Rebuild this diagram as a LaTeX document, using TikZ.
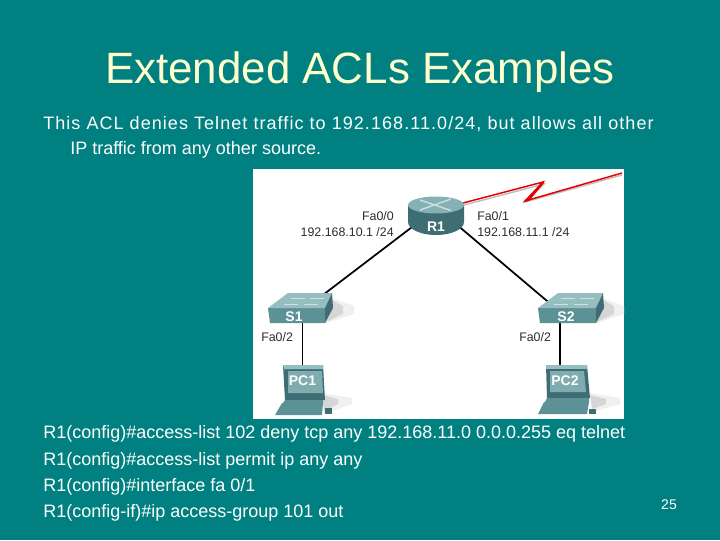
\documentclass[tikz,border=0pt]{standalone}
\usepackage{fontspec}
\setmainfont{Liberation Sans}
\usetikzlibrary{backgrounds}
\definecolor{slidebg}{RGB}{0,128,128}
\definecolor{titlecol}{RGB}{255,255,204}
\definecolor{devdark}{RGB}{62,110,116}
\definecolor{devmid}{RGB}{92,145,150}
\definecolor{devlight}{RGB}{150,190,192}
\definecolor{devpale}{RGB}{205,225,225}
\definecolor{labelgray}{RGB}{45,45,45}
\tikzset{
  x=0.75pt,y=-0.75pt,
  titletext/.style={anchor=base,text=titlecol,font=\fontsize{32.9pt}{36pt}\selectfont,inner sep=0},
  bodytext/.style={anchor=base west,text=white,font=\fontsize{13.5pt}{16pt}\selectfont,inner sep=0},
  pagenum/.style={anchor=base,text=white,font=\fontsize{10.5pt}{12pt}\selectfont,inner sep=0},
  portlabel/.style={text=labelgray,font=\fontsize{9.3pt}{11pt}\selectfont,inner sep=0,align=left},
  devname/.style={text=white,font=\bfseries\fontsize{10.5pt}{12pt}\selectfont,inner sep=0},
  cable/.style={black,line width=1.3pt},
  shadowouter/.style={fill=black!6,draw=none},
  shadowinner/.style={fill=black!16,draw=none},
  markline/.style={devpale,line width=1pt},
}
\begin{document}
\begin{tikzpicture}
\useasboundingbox (0,0) rectangle (720,540);

% Title and text
\node[titletext] (title) at (360,83) {Extended ACLs Examples};
\node[bodytext] (intro1) at (43,129) {\addfontfeature{LetterSpace=5.9}This ACL denies Telnet traffic to 192.168.11.0/24, but allows all other};
\node[bodytext] (intro2) at (70,154) {IP traffic from any other source.};
\node[bodytext] (cmd1) at (43,438) {R1(config)\#access-list 102 deny tcp any 192.168.11.0 0.0.0.255 eq telnet};
\node[bodytext] (cmd2) at (43,465) {R1(config)\#access-list permit ip any any};
\node[bodytext] (cmd3) at (43,491) {R1(config)\#interface fa 0/1};
\node[bodytext] (cmd4) at (43,517) {R1(config-if)\#ip access-group 101 out};
\node[pagenum] (num) at (669,509) {25};

% Router R1
\fill[devdark] (408,206) -- (408,222) arc[x radius=28,y radius=13,start angle=180,end angle=0] -- (464,206) -- cycle;
\fill[devlight!70!devmid] (436,205) ellipse[x radius=28,y radius=8.5];
\draw[markline] (420,200) -- (451,210.5) (451,199) -- (420,210);
\node[devname] (R1) at (436,227) {R1};

% Switch S1
\fill[shadowouter] (332,298) -- (354,306) -- (354,314) -- (326,323) -- cycle;
\fill[shadowinner] (332,300) -- (343,306) -- (343,314) -- (326,322) -- cycle;
\fill[devmid] (268,308) -- (325,308) -- (325,323) -- (270,323) -- cycle;
\fill[devlight] (268,308) -- (288,293) -- (332,293) -- (325,308) -- cycle;
\fill[devdark] (325,308) -- (332,293) -- (333,308) -- (325,323) -- cycle;
\draw[markline,line width=0.7pt] (284,304) -- (298,304) (304,304) -- (318,304) (291,298) -- (305,298) (310,298) -- (324,298);
\node[devname] (S1) at (294,317) {S1};

% Switch S2
\fill[shadowouter] (603,298) -- (624,306) -- (624,314) -- (597,323) -- cycle;
\fill[shadowinner] (603,300) -- (614,306) -- (614,314) -- (597,322) -- cycle;
\fill[devmid] (538,308) -- (596,308) -- (596,323) -- (540,323) -- cycle;
\fill[devlight] (538,308) -- (558,293) -- (603,293) -- (596,308) -- cycle;
\fill[devdark] (596,308) -- (603,293) -- (604,308) -- (596,323) -- cycle;
\draw[markline,line width=0.7pt] (554,304) -- (568,304) (574,304) -- (588,304) (561,298) -- (575,298) (580,298) -- (594,298);
\node[devname] (S2) at (566,317) {S2};

% PC1
\fill[shadowouter] (322,393) -- (352,398) -- (352,404) -- (324,414) -- cycle;
\fill[shadowinner] (322,395) -- (338,399) -- (338,404) -- (324,411) -- cycle;
\fill[devdark] (283,365) -- (323,365) -- (325,400) -- (285,400) -- cycle;
\fill[devlight] (283,365) -- (323,365) -- (323,369) -- (284,369) -- cycle;
\fill[devlight!60!devmid] (288,371) -- (322,371) -- (323,393) -- (288,393) -- cycle;
\fill[devmid] (285,400) -- (323,400) -- (323,403) -- (283,403) -- cycle;
\fill[devmid] (282,403) -- (323,403) -- (322,415) -- (275,415) -- cycle;
\fill[devdark] (325,408) rectangle (332,414);
\node[devname] (PC1) at (302.5,381) {PC1};

% PC2
\fill[shadowouter] (590,393) -- (620,398) -- (620,404) -- (592,412) -- cycle;
\fill[shadowinner] (590,395) -- (606,399) -- (606,404) -- (592,409) -- cycle;
\fill[devdark] (546,365) -- (587,365) -- (590,398) -- (547,398) -- cycle;
\fill[devlight] (546,365) -- (587,365) -- (587,369) -- (546,369) -- cycle;
\fill[devlight!60!devmid] (550,371) -- (584,371) -- (586,392) -- (550,392) -- cycle;
\fill[devmid] (547,398) -- (589,398) -- (589,402) -- (545,402) -- cycle;
\fill[devmid] (544,402) -- (589,402) -- (587,414) -- (538,414) -- cycle;
\fill[devdark] (589,409) rectangle (596,414);
\node[devname] (PC2) at (565,381) {PC2};

% Port labels
\node[portlabel,anchor=east] (l00a) at (394,216) {Fa0/0};
\node[portlabel,anchor=east] (l00b) at (394,232) {192.168.10.1 /24};
\node[portlabel,anchor=west] (l01a) at (477,216) {Fa0/1};
\node[portlabel,anchor=west] (l01b) at (477,232) {192.168.11.1 /24};
\node[portlabel,anchor=west] (l02a) at (261,337) {Fa0/2};
\node[portlabel,anchor=west] (l02b) at (519,337) {Fa0/2};

% Slide background and connectors under the icons
\begin{pgfonlayer}{background}
\fill[slidebg] (0,0) rectangle (720,540);
\fill[white] (253,169) rectangle (624,419);
\draw[cable] ([shift={(-20,-3)}]R1.center) -- (S1.center);
\draw[cable] ([shift={(20,-3)}]R1.center) -- (S2.center);
\draw[cable] (PC1.center |- S1.center) -- (PC1.center);
\draw[cable] ([xshift=-3.75pt]PC2.center |- S2.center) -- ([xshift=-3.75pt]PC2.center);
\coordinate (zigA) at (463,203);
\coordinate (zigB) at (622,173);
\draw[black!25,line width=1.1pt] (464,205) -- (544,184) -- (525,202) -- (622,175);
\draw[red!90!black,line width=1.1pt,line join=miter] (zigA) -- (543,182) -- (525,201) -- (zigB);
\fill[red!90!black] (543,181) -- (524,202) -- (529,201) -- (544,183) -- cycle;
\end{pgfonlayer}
\end{tikzpicture}
\end{document}
